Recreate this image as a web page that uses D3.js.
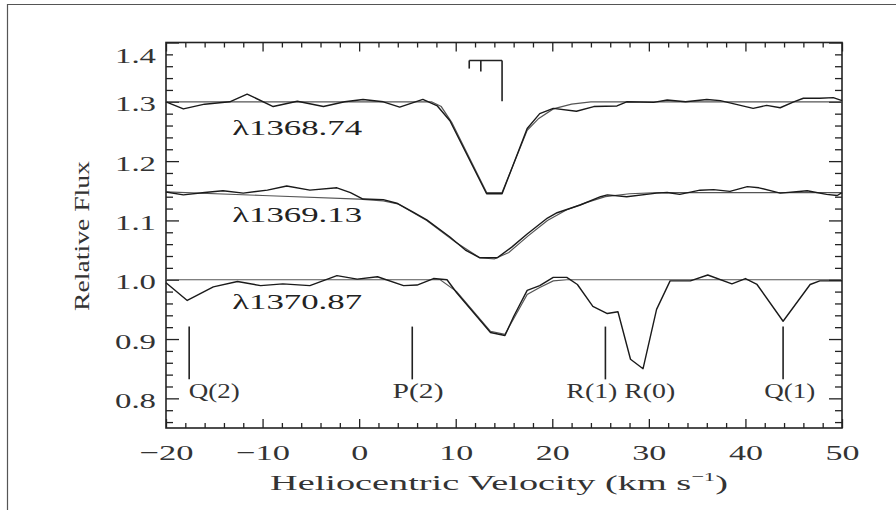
<!DOCTYPE html>
<html><head><meta charset="utf-8">
<script src="https://cdn.jsdelivr.net/npm/d3@7"></script>
<style>body{margin:0;background:#fff;} svg{display:block;}</style>
</head><body>
<svg id="c" width="896" height="510"></svg>
<script>
// ---------------- DATA ----------------
const yTickValues = [0.8, 0.9, 1.0, 1.1, 1.2, 1.3, 1.4];
const xTickValues = [-20, -10, 0, 10, 20, 30, 40, 50];

// λ1368.74 (offset +0.3)
const vel1368 = [-20,-18.2,-16,-13.4,-11.6,-8.9,-6.4,-3.7,-1.5,0.4,2.5,4.2,6.6,8.1,9.4,13.2,14.8,17.4,18.7,20.1,22.5,24.3,26.7,27.7,30.5,31.9,33.8,36,37.4,40.8,42.2,43.6,45,46,47.7,49.1,50];
const flux1368 = [1.300,1.288,1.296,1.300,1.313,1.292,1.301,1.292,1.300,1.304,1.300,1.291,1.304,1.293,1.268,1.145,1.145,1.255,1.280,1.289,1.284,1.292,1.293,1.300,1.299,1.303,1.300,1.304,1.302,1.289,1.294,1.290,1.300,1.306,1.306,1.307,1.302];
const modelVel1368 = [-20,7.5,8.5,9.6,13.2,14.8,17.4,18.6,20.1,22,24,50];
const model1368 = [1.300,1.300,1.292,1.265,1.147,1.147,1.252,1.272,1.288,1.296,1.300,1.300];

// λ1369.13 (offset +0.15)
const vel1369 = [-20,-18.2,-16,-14.1,-12,-9.5,-7.5,-5.1,-2.3,-0.9,0.4,2.5,3.9,5.5,7,9.4,11,12.5,14.3,15.8,17.4,19.5,20.5,22.9,25,25.7,27.7,30.8,31.9,33.2,35.3,36.7,38.4,40.2,41.4,43.6,46.4,48.4,49.5,50];
const flux1369 = [1.148,1.143,1.147,1.150,1.146,1.151,1.158,1.151,1.155,1.147,1.136,1.135,1.129,1.115,1.101,1.072,1.050,1.037,1.037,1.055,1.077,1.104,1.113,1.126,1.140,1.143,1.140,1.146,1.147,1.144,1.151,1.152,1.149,1.157,1.155,1.146,1.150,1.144,1.142,1.147];
const modelVel1369 = [-20,-10,0,2.5,4,7,10,12.5,14,15.5,17.5,19.5,21.5,23.5,25.5,28,31,50];
const model1369 = [1.148,1.142,1.136,1.133,1.128,1.100,1.063,1.037,1.035,1.046,1.074,1.100,1.118,1.130,1.140,1.145,1.147,1.147];

// λ1370.87
const vel1370 = [-20,-17.8,-15.1,-12.6,-10.2,-7.9,-5.1,-2.3,-0.2,1.9,4.6,6,7.7,9.1,10.1,13.6,15.1,16,17.4,18.7,20.1,21.5,22.6,24.2,25.7,26.8,28.1,29.4,30.8,32.2,34.3,36.1,38.6,40,41.2,43.9,46.7,47.7,50];
const flux1370 = [0.995,0.965,0.988,0.997,0.990,0.993,0.990,1.007,1.001,1.005,0.990,0.991,1.002,1.000,0.978,0.911,0.906,0.938,0.982,0.990,1.004,1.004,0.992,0.955,0.943,0.946,0.866,0.850,0.950,0.998,0.998,1.008,0.993,1.002,0.992,0.930,0.992,0.998,0.998];
const modelVel1370 = [-20,8.4,10.1,13.6,15.1,17.4,18.7,20.1,21.5,50];
const model1370 = [1.000,1.000,0.980,0.913,0.908,0.975,0.987,0.998,1.000,1.000];

const transitionNames = ["λ1368.74", "λ1369.13", "λ1370.87"];
const transitionLabelFlux = [1.244, 1.097, 0.950];

// H2 line identifications
const h2Names = ["Q(2)", "P(2)", "R(1)", "R(0)", "Q(1)"];
const h2LabelVel = [-15.0, 6.1, 24.1, 30.1, 44.6];
const h2MarkVel = [-17.6, 5.5, 25.5, 43.9];

// component bracket velocities
const compVel = [11.4, 12.6, 14.8];
const compLowFlux = [1.356, 1.351, 1.301];

// ---------------- CHART ----------------
const svg = d3.select("#c");
const ink = "#222";
const serif = "'Liberation Serif','DejaVu Serif',serif";

// outer frame (page border)
svg.append("path").attr("d", "M7.5,510 V4.5 H896").attr("fill", "none").attr("stroke", "#555").attr("stroke-width", 1.2);

const x = d3.scaleLinear().domain([-20, 50]).range([166, 842]);
const y = d3.scaleLinear().domain([0.75, 1.40]).range([428, 42.5]);

const xMinor = d3.range(-20, 50.01, 2).filter(v => v % 10 !== 0);
const yMinor = d3.range(0.76, 1.401, 0.02).filter(v => Math.abs(v * 10 - Math.round(v * 10)) > 1e-6);

function styleAxis(g) { g.select(".domain").remove(); g.attr("color", ink); g.selectAll("line").attr("stroke-width", 1.3); }

// left axis
const gl = svg.append("g").attr("transform", `translate(${x.range()[0]},0)`)
  .call(d3.axisLeft(y).tickValues(yTickValues).tickSize(-13).tickSizeOuter(0).tickPadding(10).tickFormat(d3.format(".1f")));
styleAxis(gl);
gl.selectAll("text").attr("font-family", serif).attr("font-size", 20).attr("fill", "#333")
  .attr("dy", "0.45em").attr("textLength", 41).attr("lengthAdjust", "spacingAndGlyphs")
  .attr("y", d => d === 1.4 ? 11 : 0);
svg.append("g").attr("transform", `translate(${x.range()[0]},0)`)
  .call(d3.axisLeft(y).tickValues(yMinor).tickSize(-7).tickSizeOuter(0).tickFormat(""))
  .call(styleAxis);

// right axis
svg.append("g").attr("transform", `translate(${x.range()[1]},0)`)
  .call(d3.axisRight(y).tickValues(yTickValues).tickSize(-13).tickSizeOuter(0).tickFormat("")).call(styleAxis);
svg.append("g").attr("transform", `translate(${x.range()[1]},0)`)
  .call(d3.axisRight(y).tickValues(yMinor).tickSize(-7).tickSizeOuter(0).tickFormat("")).call(styleAxis);

// bottom axis
const gb = svg.append("g").attr("transform", `translate(0,${y.range()[0]})`)
  .call(d3.axisBottom(x).tickValues(xTickValues).tickSize(-9).tickSizeOuter(0));
styleAxis(gb);
gb.selectAll("text").attr("font-family", serif).attr("font-size", 22).attr("fill", "#333")
  .attr("y", 32).attr("dy", 0)
  .attr("textLength", d => { const s = d3.format("")(d); return s.replace(/[−-]/, "").length * 17 + (d < 0 ? 20 : 0); })
  .attr("lengthAdjust", "spacingAndGlyphs");
svg.append("g").attr("transform", `translate(0,${y.range()[0]})`)
  .call(d3.axisBottom(x).tickValues(xMinor).tickSize(-5).tickSizeOuter(0).tickFormat("")).call(styleAxis);

// top axis
svg.append("g").attr("transform", `translate(0,${y.range()[1]})`)
  .call(d3.axisTop(x).tickValues(xTickValues).tickSize(-9).tickSizeOuter(0).tickFormat("")).call(styleAxis);
svg.append("g").attr("transform", `translate(0,${y.range()[1]})`)
  .call(d3.axisTop(x).tickValues(xMinor).tickSize(-5).tickSizeOuter(0).tickFormat("")).call(styleAxis);

// plot frame
svg.append("rect").attr("x", x.range()[0]).attr("y", y.range()[1])
  .attr("width", x.range()[1] - x.range()[0]).attr("height", y.range()[0] - y.range()[1])
  .attr("fill", "none").attr("stroke", ink).attr("stroke-width", 1.6);

// spectra
const line = d3.line().x(d => x(d[0])).y(d => y(d[1]));
const pairs = (vs, fs) => vs.map((v, i) => [v, fs[i]]);
const models = [pairs(modelVel1368, model1368), pairs(modelVel1369, model1369), pairs(modelVel1370, model1370)];
const datas = [pairs(vel1368, flux1368), pairs(vel1369, flux1369), pairs(vel1370, flux1370)];

svg.append("g").selectAll("path").data(models).join("path")
  .attr("d", line).attr("fill", "none").attr("stroke", "#555").attr("stroke-width", 1.2);
svg.append("g").selectAll("path").data(datas).join("path")
  .attr("d", line).attr("fill", "none").attr("stroke", "#1a1a1a").attr("stroke-width", 1.4).attr("stroke-linejoin", "round");

// transition labels
svg.append("g").selectAll("text").data(transitionNames).join("text")
  .attr("x", x(-13.15)).attr("y", (d, i) => y(transitionLabelFlux[i]))
  .attr("font-family", serif).attr("font-size", 22).attr("fill", "#222")
  .attr("textLength", 130).attr("lengthAdjust", "spacingAndGlyphs")
  .text(d => d);

// H2 identification marks
svg.append("g").selectAll("line").data(h2MarkVel).join("line")
  .attr("x1", d => x(d)).attr("x2", d => x(d)).attr("y1", y(0.921)).attr("y2", y(0.832))
  .attr("stroke", ink).attr("stroke-width", 1.6);
svg.append("g").selectAll("text").data(h2Names).join("text")
  .attr("x", (d, i) => x(h2LabelVel[i])).attr("y", y(0.80)).attr("text-anchor", "middle")
  .attr("font-family", serif).attr("font-size", 20).attr("fill", "#333")
  .attr("textLength", 51).attr("lengthAdjust", "spacingAndGlyphs")
  .text(d => d);

// component bracket
const bTop = y(1.3697);
svg.append("line").attr("x1", x(compVel[0])).attr("x2", x(compVel[2])).attr("y1", bTop).attr("y2", bTop)
  .attr("stroke", ink).attr("stroke-width", 1.6);
svg.append("g").selectAll("line").data(compVel).join("line")
  .attr("x1", d => x(d)).attr("x2", d => x(d)).attr("y1", bTop).attr("y2", (d, i) => y(compLowFlux[i]))
  .attr("stroke", ink).attr("stroke-width", 1.6);

// axis titles
function stretched(g, target) {
  const t = g.select("text"); const len = t.node().getComputedTextLength();
  t.attr("transform", `scale(${target / len},1)`);
}
const gx = svg.append("g").attr("transform", "translate(499,490)");
const tx = gx.append("text").attr("text-anchor", "middle").attr("font-family", serif).attr("font-size", 22).attr("fill", "#333");
tx.append("tspan").text("Heliocentric Velocity (km s");
tx.append("tspan").attr("font-size", 13).attr("dy", -9).text("−1");
tx.append("tspan").attr("dy", 9).text(")");
stretched(gx, 458);

const gy = svg.append("g").attr("transform", "translate(89,236) rotate(-90)");
gy.append("text").attr("text-anchor", "middle").attr("font-family", serif).attr("font-size", 22).attr("fill", "#333").text("Relative Flux");
stretched(gy, 150);
</script>
</body></html>
